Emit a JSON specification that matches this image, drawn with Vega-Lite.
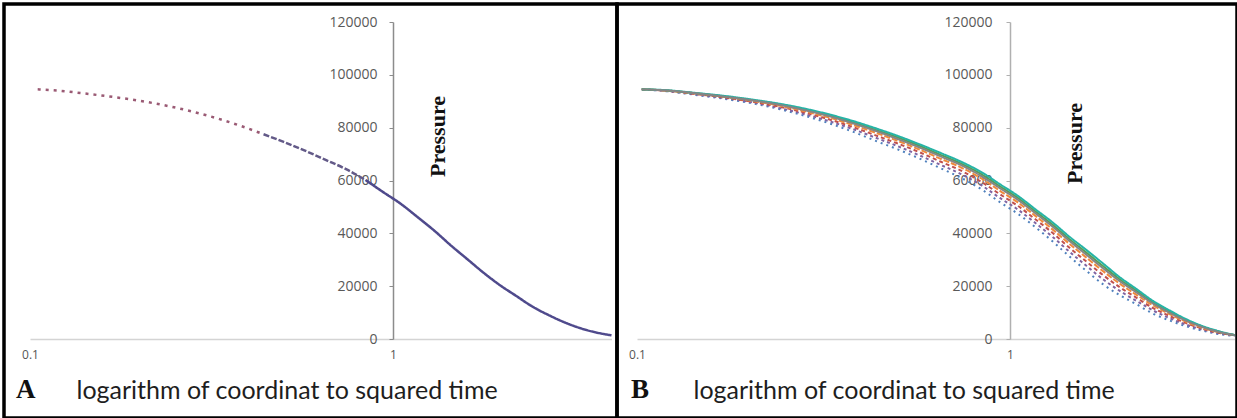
{
  "$schema": "https://vega.github.io/schema/vega-lite/v6.json",
  "background": "white",
  "padding": {"left": 2, "top": 2, "right": 2, "bottom": 2},
  "bounds": "flush",
  "spacing": 0,
  "resolve": {"scale": {"color": "independent", "strokeDash": "independent", "x": "independent", "y": "independent"}},
  "config": {"view": {"stroke": "#000000", "strokeWidth": 3.5}, "font": "Open Sans"},
  "datasets": {
    "A": [
      {"x": 0.105, "y": 94500, "seg": "sparse"},
      {"x": 0.12, "y": 94000, "seg": "sparse"},
      {"x": 0.14, "y": 93000, "seg": "sparse"},
      {"x": 0.17, "y": 91600, "seg": "sparse"},
      {"x": 0.2, "y": 90200, "seg": "sparse"},
      {"x": 0.24, "y": 88200, "seg": "sparse"},
      {"x": 0.28, "y": 86100, "seg": "sparse"},
      {"x": 0.33, "y": 83400, "seg": "sparse"},
      {"x": 0.38, "y": 80700, "seg": "sparse"},
      {"x": 0.44, "y": 77500, "seg": "sparse"},
      {"x": 0.44, "y": 77500, "seg": "mid"},
      {"x": 0.5, "y": 74600, "seg": "mid"},
      {"x": 0.57, "y": 71400, "seg": "mid"},
      {"x": 0.65, "y": 67900, "seg": "mid"},
      {"x": 0.74, "y": 64400, "seg": "mid"},
      {"x": 0.84, "y": 60200, "seg": "mid"},
      {"x": 0.84, "y": 60200, "seg": "dense"},
      {"x": 0.94, "y": 55600, "seg": "dense"},
      {"x": 1.05, "y": 51200, "seg": "dense"},
      {"x": 1.17, "y": 46100, "seg": "dense"},
      {"x": 1.3, "y": 41000, "seg": "dense"},
      {"x": 1.45, "y": 35200, "seg": "dense"},
      {"x": 1.6, "y": 30300, "seg": "dense"},
      {"x": 1.78, "y": 25000, "seg": "dense"},
      {"x": 1.97, "y": 20400, "seg": "dense"},
      {"x": 2.18, "y": 16400, "seg": "dense"},
      {"x": 2.42, "y": 12300, "seg": "dense"},
      {"x": 2.68, "y": 9100, "seg": "dense"},
      {"x": 2.97, "y": 6300, "seg": "dense"},
      {"x": 3.3, "y": 4000, "seg": "dense"},
      {"x": 3.65, "y": 2400, "seg": "dense"},
      {"x": 4.0, "y": 1400, "seg": "dense"}
    ],
    "B": [
      {"s": "blue", "x": 0.103, "y": 94500}, {"s": "blue", "x": 0.12, "y": 93800}, {"s": "blue", "x": 0.14, "y": 92600}, {"s": "blue", "x": 0.17, "y": 91000}, {"s": "blue", "x": 0.2, "y": 89400}, {"s": "blue", "x": 0.24, "y": 87100}, {"s": "blue", "x": 0.28, "y": 84600}, {"s": "blue", "x": 0.33, "y": 81500}, {"s": "blue", "x": 0.38, "y": 78400}, {"s": "blue", "x": 0.44, "y": 74800}, {"s": "blue", "x": 0.5, "y": 71800}, {"s": "blue", "x": 0.57, "y": 68400}, {"s": "blue", "x": 0.65, "y": 64700}, {"s": "blue", "x": 0.74, "y": 61000}, {"s": "blue", "x": 0.84, "y": 56600}, {"s": "blue", "x": 0.94, "y": 51800}, {"s": "blue", "x": 1.05, "y": 47400}, {"s": "blue", "x": 1.17, "y": 42300}, {"s": "blue", "x": 1.3, "y": 37000}, {"s": "blue", "x": 1.45, "y": 31000}, {"s": "blue", "x": 1.6, "y": 25900}, {"s": "blue", "x": 1.78, "y": 20600}, {"s": "blue", "x": 1.97, "y": 16600}, {"s": "blue", "x": 2.18, "y": 13200}, {"s": "blue", "x": 2.42, "y": 9600}, {"s": "blue", "x": 2.68, "y": 7000}, {"s": "blue", "x": 2.97, "y": 4800}, {"s": "blue", "x": 3.3, "y": 3100}, {"s": "blue", "x": 3.65, "y": 1800}, {"s": "blue", "x": 4.0, "y": 1200},
      {"s": "purple", "x": 0.103, "y": 94500}, {"s": "purple", "x": 0.12, "y": 93900}, {"s": "purple", "x": 0.14, "y": 92800}, {"s": "purple", "x": 0.17, "y": 91300}, {"s": "purple", "x": 0.2, "y": 89800}, {"s": "purple", "x": 0.24, "y": 87500}, {"s": "purple", "x": 0.28, "y": 85200}, {"s": "purple", "x": 0.33, "y": 82300}, {"s": "purple", "x": 0.38, "y": 79400}, {"s": "purple", "x": 0.44, "y": 76000}, {"s": "purple", "x": 0.5, "y": 73000}, {"s": "purple", "x": 0.57, "y": 69600}, {"s": "purple", "x": 0.65, "y": 66000}, {"s": "purple", "x": 0.74, "y": 62400}, {"s": "purple", "x": 0.84, "y": 58100}, {"s": "purple", "x": 0.94, "y": 53400}, {"s": "purple", "x": 1.05, "y": 49000}, {"s": "purple", "x": 1.17, "y": 43900}, {"s": "purple", "x": 1.3, "y": 38700}, {"s": "purple", "x": 1.45, "y": 32800}, {"s": "purple", "x": 1.6, "y": 27800}, {"s": "purple", "x": 1.78, "y": 22500}, {"s": "purple", "x": 1.97, "y": 18200}, {"s": "purple", "x": 2.18, "y": 14500}, {"s": "purple", "x": 2.42, "y": 10800}, {"s": "purple", "x": 2.68, "y": 7900}, {"s": "purple", "x": 2.97, "y": 5400}, {"s": "purple", "x": 3.3, "y": 3500}, {"s": "purple", "x": 3.65, "y": 2100}, {"s": "purple", "x": 4.0, "y": 1300},
      {"s": "red", "x": 0.103, "y": 94500}, {"s": "red", "x": 0.12, "y": 94000}, {"s": "red", "x": 0.14, "y": 92900}, {"s": "red", "x": 0.17, "y": 91500}, {"s": "red", "x": 0.2, "y": 90000}, {"s": "red", "x": 0.24, "y": 88000}, {"s": "red", "x": 0.28, "y": 85800}, {"s": "red", "x": 0.33, "y": 83000}, {"s": "red", "x": 0.38, "y": 80200}, {"s": "red", "x": 0.44, "y": 76900}, {"s": "red", "x": 0.5, "y": 74000}, {"s": "red", "x": 0.57, "y": 70800}, {"s": "red", "x": 0.65, "y": 67200}, {"s": "red", "x": 0.74, "y": 63700}, {"s": "red", "x": 0.84, "y": 59400}, {"s": "red", "x": 0.94, "y": 54800}, {"s": "red", "x": 1.05, "y": 50400}, {"s": "red", "x": 1.17, "y": 45300}, {"s": "red", "x": 1.3, "y": 40200}, {"s": "red", "x": 1.45, "y": 34300}, {"s": "red", "x": 1.6, "y": 29400}, {"s": "red", "x": 1.78, "y": 24100}, {"s": "red", "x": 1.97, "y": 19600}, {"s": "red", "x": 2.18, "y": 15700}, {"s": "red", "x": 2.42, "y": 11700}, {"s": "red", "x": 2.68, "y": 8700}, {"s": "red", "x": 2.97, "y": 6000}, {"s": "red", "x": 3.3, "y": 3800}, {"s": "red", "x": 3.65, "y": 2300}, {"s": "red", "x": 4.0, "y": 1400},
      {"s": "orange", "x": 0.103, "y": 94500}, {"s": "orange", "x": 0.12, "y": 94000}, {"s": "orange", "x": 0.14, "y": 93100}, {"s": "orange", "x": 0.17, "y": 91700}, {"s": "orange", "x": 0.2, "y": 90300}, {"s": "orange", "x": 0.24, "y": 88400}, {"s": "orange", "x": 0.28, "y": 86300}, {"s": "orange", "x": 0.33, "y": 83700}, {"s": "orange", "x": 0.38, "y": 81000}, {"s": "orange", "x": 0.44, "y": 77900}, {"s": "orange", "x": 0.5, "y": 75000}, {"s": "orange", "x": 0.57, "y": 71800}, {"s": "orange", "x": 0.65, "y": 68300}, {"s": "orange", "x": 0.74, "y": 64900}, {"s": "orange", "x": 0.84, "y": 60700}, {"s": "orange", "x": 0.94, "y": 56100}, {"s": "orange", "x": 1.05, "y": 51700}, {"s": "orange", "x": 1.17, "y": 46600}, {"s": "orange", "x": 1.3, "y": 41500}, {"s": "orange", "x": 1.45, "y": 35800}, {"s": "orange", "x": 1.6, "y": 30900}, {"s": "orange", "x": 1.78, "y": 25600}, {"s": "orange", "x": 1.97, "y": 20900}, {"s": "orange", "x": 2.18, "y": 16800}, {"s": "orange", "x": 2.42, "y": 12700}, {"s": "orange", "x": 2.68, "y": 9400}, {"s": "orange", "x": 2.97, "y": 6500}, {"s": "orange", "x": 3.3, "y": 4100}, {"s": "orange", "x": 3.65, "y": 2500}, {"s": "orange", "x": 4.0, "y": 1400},
      {"s": "green", "x": 0.103, "y": 94500}, {"s": "green", "x": 0.12, "y": 94100}, {"s": "green", "x": 0.14, "y": 93200}, {"s": "green", "x": 0.17, "y": 91900}, {"s": "green", "x": 0.2, "y": 90600}, {"s": "green", "x": 0.24, "y": 88900}, {"s": "green", "x": 0.28, "y": 87000}, {"s": "green", "x": 0.33, "y": 84500}, {"s": "green", "x": 0.38, "y": 82000}, {"s": "green", "x": 0.44, "y": 79000}, {"s": "green", "x": 0.5, "y": 76300}, {"s": "green", "x": 0.57, "y": 73200}, {"s": "green", "x": 0.65, "y": 69800}, {"s": "green", "x": 0.74, "y": 66400}, {"s": "green", "x": 0.84, "y": 62300}, {"s": "green", "x": 0.94, "y": 57800}, {"s": "green", "x": 1.05, "y": 53400}, {"s": "green", "x": 1.17, "y": 48300}, {"s": "green", "x": 1.3, "y": 43300}, {"s": "green", "x": 1.45, "y": 37600}, {"s": "green", "x": 1.6, "y": 32800}, {"s": "green", "x": 1.78, "y": 27500}, {"s": "green", "x": 1.97, "y": 22600}, {"s": "green", "x": 2.18, "y": 18300}, {"s": "green", "x": 2.42, "y": 13800}, {"s": "green", "x": 2.68, "y": 10300}, {"s": "green", "x": 2.97, "y": 7200}, {"s": "green", "x": 3.3, "y": 4600}, {"s": "green", "x": 3.65, "y": 2700}, {"s": "green", "x": 4.0, "y": 1500},
      {"s": "teal", "x": 0.103, "y": 94500}, {"s": "teal", "x": 0.12, "y": 94200}, {"s": "teal", "x": 0.14, "y": 93300}, {"s": "teal", "x": 0.17, "y": 92100}, {"s": "teal", "x": 0.2, "y": 90800}, {"s": "teal", "x": 0.24, "y": 89100}, {"s": "teal", "x": 0.28, "y": 87300}, {"s": "teal", "x": 0.33, "y": 84900}, {"s": "teal", "x": 0.38, "y": 82500}, {"s": "teal", "x": 0.44, "y": 79600}, {"s": "teal", "x": 0.5, "y": 76900}, {"s": "teal", "x": 0.57, "y": 73800}, {"s": "teal", "x": 0.65, "y": 70500}, {"s": "teal", "x": 0.74, "y": 67100}, {"s": "teal", "x": 0.84, "y": 63100}, {"s": "teal", "x": 0.94, "y": 58600}, {"s": "teal", "x": 1.05, "y": 54200}, {"s": "teal", "x": 1.17, "y": 49100}, {"s": "teal", "x": 1.3, "y": 44200}, {"s": "teal", "x": 1.45, "y": 38500}, {"s": "teal", "x": 1.6, "y": 33800}, {"s": "teal", "x": 1.78, "y": 28500}, {"s": "teal", "x": 1.97, "y": 23400}, {"s": "teal", "x": 2.18, "y": 19000}, {"s": "teal", "x": 2.42, "y": 14400}, {"s": "teal", "x": 2.68, "y": 10800}, {"s": "teal", "x": 2.97, "y": 7500}, {"s": "teal", "x": 3.3, "y": 4800}, {"s": "teal", "x": 3.65, "y": 2900}, {"s": "teal", "x": 4.0, "y": 1500},
      {"s": "gray", "x": 0.103, "y": 94500}, {"s": "gray", "x": 0.12, "y": 94100}, {"s": "gray", "x": 0.14, "y": 93200}, {"s": "gray", "x": 0.17, "y": 91800}, {"s": "gray", "x": 0.2, "y": 90500}, {"s": "gray", "x": 0.24, "y": 88700}, {"s": "gray", "x": 0.28, "y": 86700}, {"s": "gray", "x": 0.33, "y": 84200}, {"s": "gray", "x": 0.38, "y": 81600}, {"s": "gray", "x": 0.44, "y": 78600}, {"s": "gray", "x": 0.5, "y": 75700}, {"s": "gray", "x": 0.57, "y": 72600}, {"s": "gray", "x": 0.65, "y": 69200}, {"s": "gray", "x": 0.74, "y": 65800}, {"s": "gray", "x": 0.84, "y": 61600}, {"s": "gray", "x": 0.94, "y": 57100}, {"s": "gray", "x": 1.05, "y": 52700}, {"s": "gray", "x": 1.17, "y": 47600}, {"s": "gray", "x": 1.3, "y": 42600}, {"s": "gray", "x": 1.45, "y": 36900}, {"s": "gray", "x": 1.6, "y": 32000}, {"s": "gray", "x": 1.78, "y": 26700}, {"s": "gray", "x": 1.97, "y": 21900}, {"s": "gray", "x": 2.18, "y": 17700}, {"s": "gray", "x": 2.42, "y": 13400}, {"s": "gray", "x": 2.68, "y": 9900}, {"s": "gray", "x": 2.97, "y": 6900}, {"s": "gray", "x": 3.3, "y": 4400}, {"s": "gray", "x": 3.65, "y": 2600}, {"s": "gray", "x": 4.0, "y": 1500}
    ]
  },
  "hconcat": [
    {
      "width": 613,
      "height": 414,
      "data": {"name": "A"},
      "title": {"text": "A", "orient": "bottom", "anchor": "start", "frame": "group", "offset": -20, "dx": 12, "baseline": "alphabetic", "font": "Liberation Serif", "fontSize": 27, "fontWeight": "bold", "color": "#111111"},
      "mark": {"type": "line", "interpolate": "monotone", "strokeWidth": 2.5},
      "encoding": {
        "x": {
          "field": "x", "type": "quantitative",
          "scale": {"type": "log", "domain": [0.1, 4], "range": [26, 607.5], "nice": false},
          "axis": {
            "orient": "bottom", "offset": -79, "values": [0.1, 1], "format": "~g",
            "ticks": false, "grid": false, "domainColor": "#d4d4d4", "domainWidth": 1.5,
            "labelFont": "Open Sans", "labelFontSize": 12, "labelColor": "#555555", "labelPadding": 10, "labelFlush": false,
            "title": "logarithm of coordinat to squared time", "titleFont": "Lato", "titleFontSize": 25, "titleFontWeight": "normal", "titleColor": "#1e1e1e",
            "titleX": 72, "titleY": 59, "titleAlign": "left", "titleBaseline": "alphabetic"
          }
        },
        "y": {
          "field": "y", "type": "quantitative",
          "scale": {"domain": [0, 120000], "range": [335, 18], "nice": false},
          "axis": {
            "orient": "left", "offset": -389, "values": [0, 20000, 40000, 60000, 80000, 100000, 120000], "format": "d",
            "grid": false, "domainColor": "#8c8c8c", "domainWidth": 1.5, "tickColor": "#8c8c8c", "tickSize": 4,
            "labelFont": "Open Sans", "labelFontSize": 14, "labelColor": "#595959", "labelPadding": 12,
            "title": "Pressure", "titleFont": "Liberation Serif", "titleFontSize": 22, "titleFontWeight": "bold", "titleColor": "#111111",
            "titleAngle": 270, "titleX": 44, "titleY": 132, "titleAlign": "center", "titleBaseline": "middle"
          }
        },
        "color": {"field": "seg", "type": "nominal", "scale": {"domain": ["sparse", "mid", "dense"], "range": ["#9a5a74", "#635a88", "#4f4a8c"]}, "legend": null},
        "strokeDash": {"field": "seg", "type": "nominal", "scale": {"domain": ["sparse", "mid", "dense"], "range": [[3, 5], [6, 2], [1, 0]]}, "legend": null}
      }
    },
    {
      "width": 620,
      "height": 414,
      "data": {"name": "B"},
      "title": {"text": "B", "orient": "bottom", "anchor": "start", "frame": "group", "offset": -20, "dx": 14, "baseline": "alphabetic", "font": "Liberation Serif", "fontSize": 27, "fontWeight": "bold", "color": "#111111"},
      "mark": {"type": "line", "interpolate": "monotone", "strokeWidth": 2},
      "encoding": {
        "x": {
          "field": "x", "type": "quantitative",
          "scale": {"type": "log", "domain": [0.1, 4], "range": [20, 617.5], "nice": false},
          "axis": {
            "orient": "bottom", "offset": -79, "values": [0.1, 1], "format": "~g",
            "ticks": false, "grid": false, "domainColor": "#d4d4d4", "domainWidth": 1.5,
            "labelFont": "Open Sans", "labelFontSize": 12, "labelColor": "#555555", "labelPadding": 10, "labelFlush": false,
            "title": "logarithm of coordinat to squared time", "titleFont": "Lato", "titleFontSize": 25, "titleFontWeight": "normal", "titleColor": "#1e1e1e",
            "titleX": 76, "titleY": 59, "titleAlign": "left", "titleBaseline": "alphabetic"
          }
        },
        "y": {
          "field": "y", "type": "quantitative",
          "scale": {"domain": [0, 120000], "range": [335, 18], "nice": false},
          "axis": {
            "orient": "left", "offset": -393, "values": [0, 20000, 40000, 60000, 80000, 100000, 120000], "format": "d",
            "grid": false, "domainColor": "#b0b0b0", "domainWidth": 1.5, "tickColor": "#b0b0b0", "tickSize": 4,
            "labelFont": "Open Sans", "labelFontSize": 14, "labelColor": "#595959", "labelPadding": 14,
            "title": "Pressure", "titleFont": "Liberation Serif", "titleFontSize": 22, "titleFontWeight": "bold", "titleColor": "#111111",
            "titleAngle": 270, "titleX": 64, "titleY": 139, "titleAlign": "center", "titleBaseline": "middle"
          }
        },
        "color": {"field": "s", "type": "nominal", "scale": {"domain": ["blue", "purple", "red", "orange", "green", "teal", "gray"], "range": ["#4f81bd", "#8064a2", "#c0504d", "#f08a3c", "#55a055", "#26b3a6", "#858585"]}, "legend": null},
        "strokeDash": {"field": "s", "type": "nominal", "scale": {"domain": ["blue", "purple", "red", "orange", "green", "teal", "gray"], "range": [[2, 4], [3, 3], [4, 3], [6, 2], [1, 0], [1, 0], [1, 0]]}, "legend": null}
      }
    }
  ]
}
